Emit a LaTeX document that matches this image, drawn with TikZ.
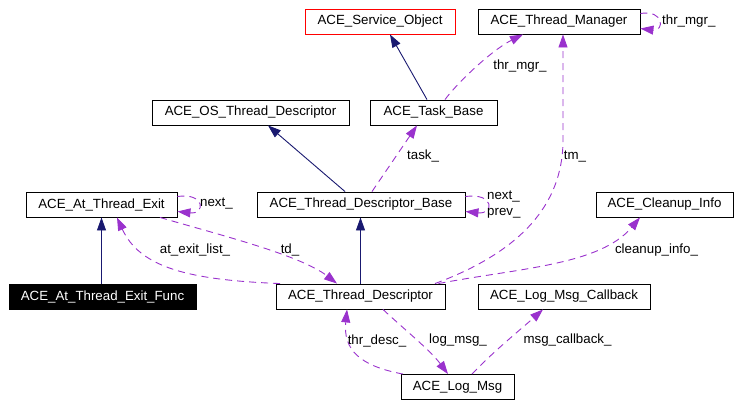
\documentclass[tikz,border=0pt]{standalone}
\usepackage{fontspec}
\setmainfont{Liberation Sans}
\usetikzlibrary{arrows.meta,calc}
\definecolor{navyc}{HTML}{191970}
\definecolor{purp}{HTML}{9A32CD}
\begin{document}
\begin{tikzpicture}[x=1pt,y=-1pt,
  every node/.style={font=\fontsize{13.3}{15}\selectfont, inner sep=0pt},
  cls/.style={draw=black, line width=0.9pt, minimum height=25pt, fill=white},
  inh/.style={draw=navyc, line width=0.9pt, -{Triangle[length=13pt,width=9pt]}},
  use/.style={draw=purp, line width=0.9pt, dash pattern=on 7pt off 5pt, -{Triangle[length=13pt,width=9pt]}},
  lbl/.style={text=black}]
\useasboundingbox (0,0) rectangle (755,407);
% classes
\node[cls, draw=red, minimum width=150pt] (so) at (380,21.5) {ACE\_Service\_Object};
\node[cls, minimum width=162pt] (tm) at (559,21.5) {ACE\_Thread\_Manager};
\node[cls, minimum width=197pt] (os) at (250.5,112.5) {ACE\_OS\_Thread\_Descriptor};
\node[cls, minimum width=127pt] (tb) at (433.5,112.5) {ACE\_Task\_Base};
\node[cls, minimum width=151pt] (ate) at (101.5,204.5) {ACE\_At\_Thread\_Exit};
\node[cls, minimum width=208pt] (tdb) at (361,204.5) {ACE\_Thread\_Descriptor\_Base};
\node[cls, minimum width=137pt] (ci) at (664.5,204.5) {ACE\_Cleanup\_Info};
\node[cls, fill=black, text=white, minimum width=187pt] (atef) at (102.5,297) {ACE\_At\_Thread\_Exit\_Func};
\node[cls, minimum width=169pt] (td) at (360.5,296.5) {ACE\_Thread\_Descriptor};
\node[cls, minimum width=172pt] (lmc) at (564,296.5) {ACE\_Log\_Msg\_Callback};
\node[cls, minimum width=113pt] (lm) at (457.5,387) {ACE\_Log\_Msg};
% inheritance
\draw[inh] ($(tb.north)+(-6.5,0)$) -- ($(so.south)+(10,0)$);
\draw[inh] ($(tdb.north)+(-16,0)$) -- ($(os.south)+(17.5,0)$);
\draw[inh] (td.north) -- (td.north |- tdb.south);
\draw[inh] ($(atef.north)+(-1,0)$) -- ($(ate.south)+(0,0)$);
% usage
\draw[use] ($(tb.north)+(11.5,0)$) .. controls (458,82) and (492,50) .. ($(tm.south)+(-36,0)$);
\node[lbl] (l1) at (520,66) {thr\_mgr\_};
\draw[use] ($(tm.east)+(0,-8)$) .. controls ($(tm.east)+(24,-12)$) and ($(tm.east)+(24,10)$) .. ($(tm.east)+(0,7)$);
\node[lbl, anchor=west] (l2) at (662,21) {thr\_mgr\_};
\draw[use] ($(tdb.north)+(11,0)$) -- ($(tb.south)+(-16.5,0)$);
\node[lbl, anchor=west] (l3) at (407,156) {task\_};
\draw[use] ($(tdb.east)+(0,-8)$) .. controls ($(tdb.east)+(29,-12)$) and ($(tdb.east)+(29,10)$) .. ($(tdb.east)+(0,7)$);
\node[lbl, anchor=west] (l4) at (487,197) {next\_};
\node[lbl, anchor=west] (l5) at (487,213) {prev\_};
\draw[use] ($(td.north)+(74.5,0)$) .. controls (520,252) and (563,205) .. (563,140) -- ($(tm.south)+(4,0)$);
\node[lbl] (l6) at (575,157) {tm\_};
\draw[use] ($(td.north)+(78,0)$) .. controls (520,268) and (600,265) .. ($(ci.south)+(-24.5,0)$);
\node[lbl] (l7) at (656.5,250) {cleanup\_info\_};
\draw[use] ($(ate.south)+(58.5,0)$) .. controls (220,235) and (300,255) .. ($(td.north)+(-23.5,0)$);
\node[lbl] (l8) at (290,250) {td\_};
\draw[use] ($(td.north)+(-80.5,0)$) .. controls (190,280) and (140,268) .. ($(ate.south)+(15.5,0)$);
\node[lbl] (l9) at (195,250) {at\_exit\_list\_};
\draw[use] ($(ate.east)+(0,-8)$) .. controls ($(ate.east)+(28,-12)$) and ($(ate.east)+(28,10)$) .. ($(ate.east)+(0,7)$);
\node[lbl, anchor=west] (l10) at (200,204) {next\_};
\draw[use] ($(td.south)+(22.5,0)$) .. controls (405,330) and (430,350) .. ($(lm.north)+(-9.5,0)$);
\node[lbl] (l11) at (458,340) {log\_msg\_};
\draw[use] ($(lm.north)+(-54.5,0)$) .. controls (360,366) and (343,350) .. ($(td.south)+(-13.5,0)$);
\node[lbl] (l12) at (377,341) {thr\_desc\_};
\draw[use] ($(lm.north)+(14.5,0)$) .. controls (495,350) and (520,330) .. ($(lmc.south)+(-21,0)$);
\node[lbl] (l13) at (567.5,340) {msg\_callback\_};
\end{tikzpicture}
\end{document}
